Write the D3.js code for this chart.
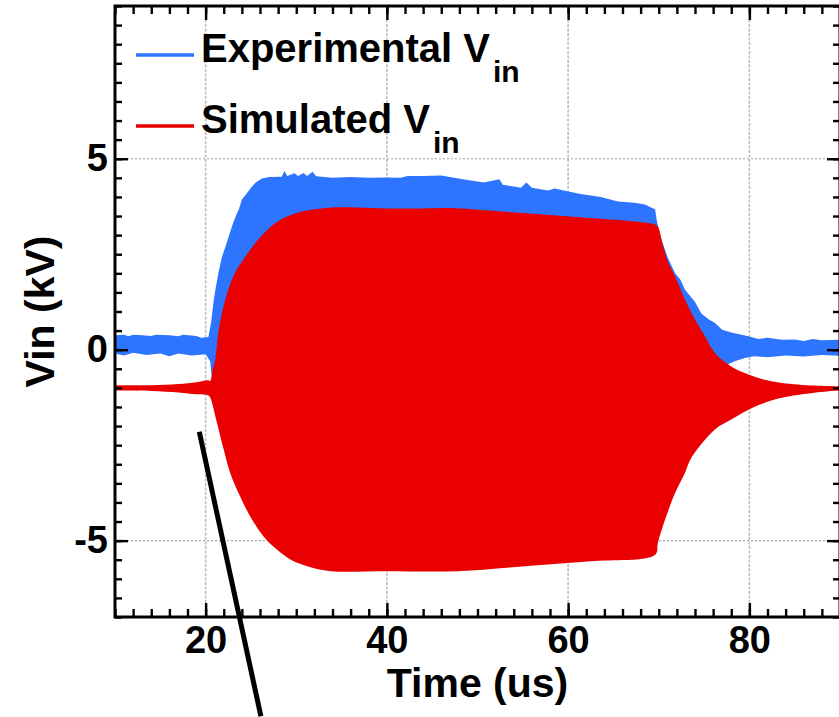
<!DOCTYPE html>
<html><head><meta charset="utf-8">
<script src="https://cdn.jsdelivr.net/npm/d3@7"></script>
<style>
body{margin:0;background:#fff;}
svg{display:block;font-family:"Liberation Sans",Arial,sans-serif;font-weight:bold;}
</style>
</head><body>
<svg id="c" width="839" height="717"></svg>
<script>
// ---- data (time in us, voltage in kV) ----
const expUpT  = [10,11,11.5,12,13,14,14.5,16,17,17.5,19,19.5,20.3,20.6,20.9,21.1,21.4,21.8,22.2,22.5,23.0,23.3,23.7,24.0,24.4,24.7,25.1,25.5,26.2,27.0,28.4,28.7,29.0,29.8,30.2,30.8,31.2,31.8,32.2,34,36,38,40,41.5,42.3,44,46,48.2,50.7,52.4,52.8,54.8,55.4,56,57.8,58.5,59.5,61.4,63.6,65.5,67.3,68.5,69.2,69.6,69.8,70.3,71.0,71.8,72.4,72.9,74.0,74.7,75.5,76.2,77.0,78.0,79.9,81,82,83.6,85,86,87,88,90];
const expUpV  = [0.38,0.39,0.35,0.39,0.38,0.36,0.39,0.38,0.35,0.39,0.36,0.31,0.33,0.7,1.3,1.6,2.0,2.43,2.7,2.93,3.3,3.48,3.7,3.93,4.05,4.14,4.27,4.37,4.48,4.52,4.53,4.68,4.55,4.62,4.55,4.63,4.55,4.66,4.54,4.5,4.52,4.5,4.51,4.5,4.55,4.55,4.56,4.47,4.38,4.46,4.32,4.24,4.38,4.24,4.17,4.22,4.17,4.08,4.0,3.88,3.85,3.8,3.72,3.68,3.35,2.88,2.41,2.0,1.83,1.57,1.25,0.95,0.8,0.7,0.52,0.45,0.35,0.28,0.31,0.26,0.27,0.23,0.28,0.25,0.26];
const expLoT  = [10,11,12,13.5,15,16,17,18.5,20,20.5,20.8,76.5,77.5,78.3,79.5,80.5,82,84,86,88,90];
const expLoV  = [-0.1,-0.15,-0.08,-0.14,-0.1,-0.17,-0.1,-0.15,-0.12,-0.3,-1.0,-1.0,-0.4,-0.31,-0.22,-0.17,-0.2,-0.15,-0.18,-0.14,-0.16];

const simUpT  = [10,14,17,19,20.3,20.5,20.8,21.06,21.4,21.8,22.5,23.3,24.4,25.5,26.6,27.7,29.2,31,33.6,35.4,40,44,47,52,58,63.6,67.3,69.6,69.9,70.5,71,71.8,72.9,74,75.1,76.2,78,79.9,81.7,83.6,87.2,90];
const simUpV  = [-0.93,-0.93,-0.9,-0.85,-0.8,-0.82,-0.5,-0.26,0.45,0.96,1.57,2.04,2.44,2.8,3.09,3.32,3.51,3.64,3.72,3.73,3.7,3.7,3.71,3.63,3.53,3.43,3.36,3.28,3.22,2.7,2.31,1.92,1.31,0.79,0.35,-0.09,-0.44,-0.65,-0.79,-0.87,-0.94,-0.96];
const simLoT  = [10,14,17,19,20.3,20.5,21.25,22,22.7,23.8,24.9,26.4,27.9,29.4,31.2,33.8,40,47.8,55.2,62.5,69.6,69.9,70.7,71.8,72.9,73.6,76.2,78,79.9,81.7,83.6,87.2,90];
const simLoV  = [-1.07,-1.08,-1.12,-1.17,-1.2,-1.25,-1.91,-2.62,-3.22,-3.84,-4.36,-4.89,-5.24,-5.5,-5.67,-5.8,-5.8,-5.8,-5.67,-5.54,-5.37,-5.06,-4.45,-3.75,-3.22,-2.83,-2.09,-1.83,-1.57,-1.39,-1.26,-1.13,-1.07];

const xMajor = [20,40,60,80];
const yMajor = [-5,0,5];
const xDomain = [10,90];
const yDomain = [-7,9];
const legendLabels = ["Experimental V","Simulated V"];
const legendSub = "in";
const xTitle = "Time (us)";
const yTitle = "Vin (kV)";
const annotT = [19.3, 26.1];
const annotV = [-2.15, -9.6];

// ---- drawing ----
const L=115, R=840, T=6, B=617;
const blue="#2d74fe", red="#ea0000";
const svg=d3.select("#c");
const x=d3.scaleLinear().domain(xDomain).range([L,R]);
const y=d3.scaleLinear().domain(yDomain).range([B,T]);

svg.append("clipPath").attr("id","clip").append("rect")
  .attr("x",L).attr("y",T).attr("width",R-L).attr("height",B-T);

// grid
const grid=svg.append("g");
grid.selectAll(".gx").data(xMajor).join("line")
  .attr("x1",d=>x(d)).attr("x2",d=>x(d)).attr("y1",T).attr("y2",B)
  .attr("stroke","#bdbdbd").attr("stroke-width",1.6).attr("stroke-dasharray","3,1.5");
grid.selectAll(".gy").data(yMajor).join("line")
  .attr("y1",d=>y(d)).attr("y2",d=>y(d)).attr("x1",L).attr("x2",R)
  .attr("stroke","#a8a8a8").attr("stroke-width",1.2).attr("stroke-dasharray","2,2");

function band(upT,upV,loT,loV,curve){
  const ln=d3.line().curve(curve);
  const up=upT.map((t,i)=>[x(t),y(upV[i])]);
  const lo=loT.map((t,i)=>[x(t),y(loV[i])]).reverse();
  return ln(up)+ln(lo).replace(/^M/,"L")+"Z";
}
const data=svg.append("g").attr("clip-path","url(#clip)");
data.append("path").attr("d",band(expUpT,expUpV,expLoT,expLoV,d3.curveLinear)).attr("fill",blue);
data.append("path").attr("d",band(simUpT,simUpV,simLoT,simLoV,d3.curveCatmullRom.alpha(0.5))).attr("fill",red);

// axes (ticks inward)
const fmt=d=>String(d);
function minorX(){return d3.range(xDomain[0],xDomain[1]+0.001,2);}
function minorY(){return d3.range(yDomain[0],yDomain[1]+0.001,0.5);}
const axes=svg.append("g");
function styleAxis(g){g.select(".domain").remove();g.selectAll(".tick line").attr("stroke","#000").attr("stroke-width",2.4);}
axes.append("g").attr("transform",`translate(0,${B})`).call(d3.axisBottom(x).tickValues(minorX()).tickSize(-8).tickFormat("")).call(styleAxis);
axes.append("g").attr("transform",`translate(0,${B})`).call(d3.axisBottom(x).tickValues(xMajor).tickSize(-14).tickPadding(9).tickFormat(fmt)).call(styleAxis);
axes.append("g").attr("transform",`translate(0,${T})`).call(d3.axisTop(x).tickValues(minorX()).tickSize(-8).tickFormat("")).call(styleAxis);
axes.append("g").attr("transform",`translate(0,${T})`).call(d3.axisTop(x).tickValues(xMajor).tickSize(-14).tickFormat("")).call(styleAxis);
axes.append("g").attr("transform",`translate(${L},0)`).call(d3.axisLeft(y).tickValues(minorY()).tickSize(-7).tickFormat("")).call(styleAxis);
axes.append("g").attr("transform",`translate(${L},0)`).call(d3.axisLeft(y).tickValues(yMajor).tickSize(-13).tickPadding(7).tickFormat(fmt)).call(styleAxis);
axes.append("g").attr("transform",`translate(${R},0)`).call(d3.axisRight(y).tickValues(minorY()).tickSize(-7).tickFormat("")).call(styleAxis);
axes.append("g").attr("transform",`translate(${R},0)`).call(d3.axisRight(y).tickValues(yMajor).tickSize(-13).tickFormat("")).call(styleAxis);
axes.selectAll(".tick text").attr("font-size",38).attr("font-weight","bold")
  .attr("font-family",'"Liberation Sans",Arial,sans-serif').attr("fill","#000");

svg.append("rect").attr("x",L).attr("y",T).attr("width",R-L).attr("height",B-T)
  .attr("fill","none").attr("stroke","#000").attr("stroke-width",3);

// titles
svg.append("text").attr("x",(L+R)/2).attr("y",697).attr("text-anchor","middle")
  .attr("font-size",41).text(xTitle);
svg.append("text").attr("transform",`translate(54,${(T+B)/2}) rotate(-90)`).attr("text-anchor","middle")
  .attr("font-size",41).text(yTitle);

// legend
const leg=svg.append("g");
[blue,red].forEach((c,i)=>{
  const ly=55+i*71;
  leg.append("line").attr("x1",136).attr("x2",194).attr("y1",ly).attr("y2",ly)
    .attr("stroke",c).attr("stroke-width",3.5);
  const t=leg.append("text").attr("x",201).attr("y",ly+7).attr("font-size",40);
  t.append("tspan").text(legendLabels[i]);
  t.append("tspan").attr("font-size",30).attr("dx",3).attr("dy",20).text(legendSub);
});

// annotation pointer line
svg.append("line")
  .attr("x1",x(annotT[0])).attr("y1",y(annotV[0]))
  .attr("x2",x(annotT[1])).attr("y2",y(annotV[1]))
  .attr("stroke","#000").attr("stroke-width",5);
</script>
</body></html>
